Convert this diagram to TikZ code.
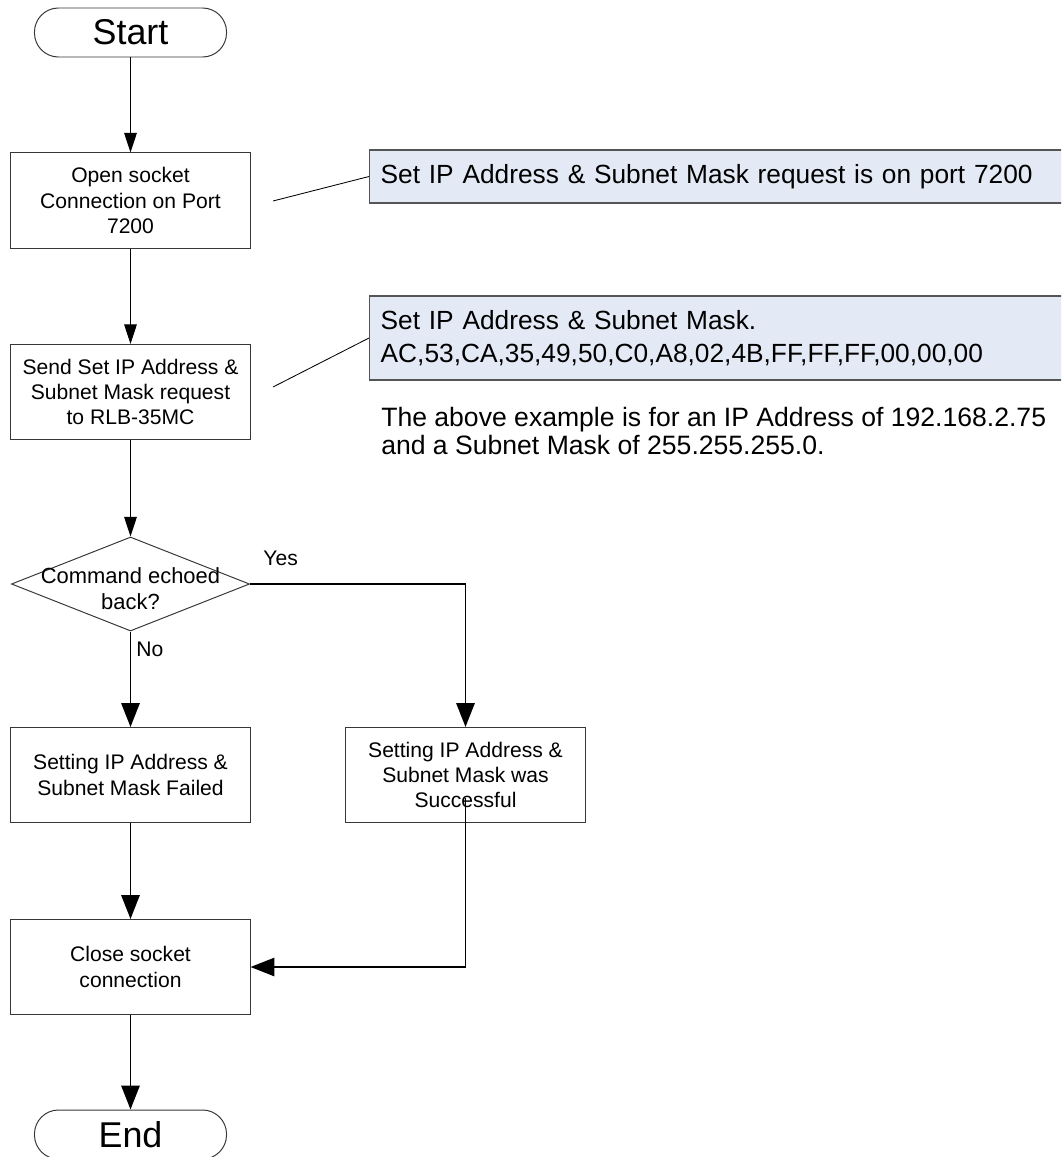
\documentclass[tikz,border=0pt]{standalone}
\usepackage{fontspec}
\setmainfont{Liberation Sans}
\usetikzlibrary{arrows.meta}
\usetikzlibrary{shapes.geometric}
\definecolor{NoteFill}{RGB}{228,234,245}
\definecolor{Edge}{RGB}{55,55,55}
\newcommand{\boxfont}{\fontsize{15}{18}\selectfont}
\newcommand{\notefont}{\fontsize{18.7}{23.4}\selectfont}
\tikzset{Box/.style={draw=Edge, line width=0.7pt, minimum width=5.975cm, minimum height=2.375cm, inner sep=2pt, align=center, font=\boxfont},
         Term/.style={draw=Edge, line width=0.7pt, rounded corners=0.6cm, minimum width=4.8cm, minimum height=1.225cm, inner sep=0pt, font=\fontsize{25.5}{30}\selectfont},
         Decision/.style={diamond, draw=Edge, line width=0.7pt, minimum width=5.95cm, minimum height=2.35cm, inner sep=0pt},
         Note/.style={draw=Edge!85, line width=1pt, fill=NoteFill, anchor=west, align=left, inner xsep=0.275cm, text width=17.2cm, font=\notefont},
         Thin/.style={line width=0.7pt, -{Triangle[length=14pt, width=9pt]}},
         Thick/.style={line width=1.4pt, -{Triangle[length=17pt, width=13pt]}},
         Tag/.style={inner sep=0pt, font=\boxfont}}

\begin{document}
\begin{tikzpicture}[x=0.025cm, y=-0.025cm]
  \clip (0,0) rectangle (1061,1157);
  % main flow
  \node[Term] (Start) at (130.5,32.5) {Start};
  \node[Box] (Open) at (130.5,200.5) {Open socket\\Connection on Port\\7200};
  \node[Box] (Send) at (130.5,392) {Send Set IP Address \&\\Subnet Mask request\\to RLB-35MC};
  \node[Decision, label={[align=center, font=\fontsize{15.6}{18.4}\selectfont, inner sep=0pt, yshift=-0.125cm]center:Command echoed\\back?}] (Echo) at (130.5,584) {};
  \node[Box] (Fail) at (130.5,775) {Setting IP Address \&\\Subnet Mask Failed};
  \node[Box] (Done) at (465.5,775) {Setting IP Address \&\\Subnet Mask was\\Successful};
  \node[Box] (Close) at (130.5,967) {Close socket\\connection};
  \node[Term] (End) at (130.5,1134.5) {End};
  % notes
  \node[Note, minimum height=1.325cm] (PortNote) at (369,176.5) {Set IP Address \& Subnet Mask request is on port 7200};
  \node[Note, minimum height=2.1cm] (MaskNote) at (369,338) {Set IP Address \& Subnet Mask.\\AC,53,CA,35,49,50,C0,A8,02,4B,FF,FF,FF,00,00,00};
  \node[anchor=west, align=left, inner sep=0pt, font=\fontsize{18.9}{19.5}\selectfont] (Example) at (381,431) {The above example is for an IP Address of 192.168.2.75\\and a Subnet Mask of 255.255.255.0.};
  \coordinate (PortTail) at (273,201);
  \coordinate (MaskTail) at (273,387);

  \draw[Thin] (Start) -- (Open);
  \draw[Thin] (Open) -- (Send);
  \draw[Thin] (Send) -- (Echo);
  \draw[line width=0.6pt] (PortTail) -- (PortNote.west);
  \draw[line width=0.6pt] (MaskTail) -- (MaskNote.west);
  \draw[Thick] (Echo.east) -| node[Tag, pos=0.071, above=12.5pt] {Yes} (Done.north);
  \draw[Thick] (Echo.south) -- node[Tag, pos=0.19, right=3.5pt] {No} (Fail.north);
  \draw[Thick] (Fail) -- (Close);
  \draw[Thick] ([yshift=0.625cm]Done.south) |- (Close.east);
  \draw[Thick] (Close) -- (End);
\end{tikzpicture}
\end{document}
